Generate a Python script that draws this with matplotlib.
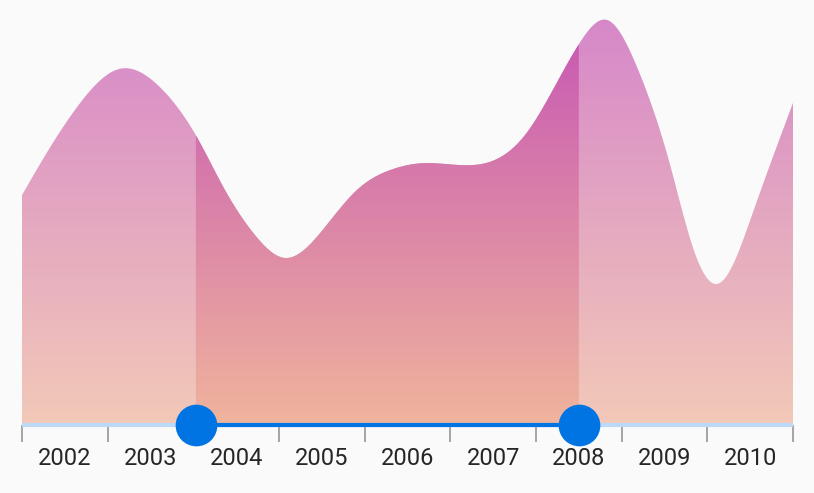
import numpy as np
import matplotlib
matplotlib.use("Agg")
import matplotlib.pyplot as plt
from matplotlib.colors import LinearSegmentedColormap
from matplotlib.path import Path
from matplotlib.patches import PathPatch

# values (x in years, y in % of plot height)
years_x = [2002.00, 2002.33, 2002.68, 2003.14, 2003.61, 2004.04, 2004.35, 2004.74,
           2005.07, 2005.51, 2005.91, 2006.30, 2006.68, 2007.08, 2007.46, 2007.89,
           2008.28, 2008.51, 2008.83, 2009.18, 2009.56, 2009.83, 2010.12, 2010.53,
           2011.00]
values = [54.1, 65.4, 75.8, 83.8, 79.5, 67.8, 56.0, 44.2,
          39.3, 45.9, 55.3, 60.0, 61.6, 61.2, 61.9, 68.7,
          81.9, 89.9, 95.3, 84.2, 61.6, 41.9, 33.2, 49.9,
          75.8]
tick_years = list(range(2002, 2012))
labels = [str(y) for y in range(2002, 2011)]
range_start, range_end = 2004.03, 2008.5


def spline(x, y, xn):
    # natural cubic spline
    x = np.asarray(x, float)
    y = np.asarray(y, float)
    n = len(x)
    h = np.diff(x)
    A = np.zeros((n, n))
    b = np.zeros(n)
    A[0, 0] = A[-1, -1] = 1
    for i in range(1, n - 1):
        A[i, i - 1] = h[i - 1]
        A[i, i] = 2 * (h[i - 1] + h[i])
        A[i, i + 1] = h[i]
        b[i] = 6 * ((y[i + 1] - y[i]) / h[i] - (y[i] - y[i - 1]) / h[i - 1])
    M = np.linalg.solve(A, b)
    idx = np.clip(np.searchsorted(x, xn) - 1, 0, n - 2)
    hi = h[idx]
    a = x[idx + 1] - xn
    c = xn - x[idx]
    return (M[idx] * a**3 / (6 * hi) + M[idx + 1] * c**3 / (6 * hi)
            + (y[idx] / hi - M[idx] * hi / 6) * a
            + (y[idx + 1] / hi - M[idx + 1] * hi / 6) * c)


def area_path(x0, x1):
    xs = np.linspace(x0, x1, 500)
    ys = spline(years_x, values, xs)
    verts = [(x0, 0)] + list(zip(xs, ys)) + [(x1, 0), (x0, 0)]
    return Path(verts, closed=True)


fig = plt.figure(figsize=(8.14, 4.93), dpi=100, facecolor="#fafafa")
ax = fig.add_axes([22 / 814, (493 - 425) / 493, (793 - 22) / 814, 425 / 493])
ax.set_facecolor("#fafafa")
ax.set_xlim(2002, 2011)
ax.set_ylim(0, 100)

cmap = LinearSegmentedColormap.from_list("grad", ["#f0b49c", "#c552b5"])
grad = np.linspace(0, 1, 256).reshape(-1, 1)

# whole area, faded (inactive region)
patch_all = PathPatch(area_path(2002, 2011), facecolor="none", edgecolor="none")
ax.add_patch(patch_all)
im = ax.imshow(grad, cmap=cmap, origin="lower", aspect="auto",
               extent=[2002, 2011, 0, 100], alpha=0.7, zorder=1)
im.set_clip_path(patch_all)

# selected range at full strength
patch_sel = PathPatch(area_path(range_start, range_end), facecolor="none", edgecolor="none")
ax.add_patch(patch_sel)
im2 = ax.imshow(grad, cmap=cmap, origin="lower", aspect="auto",
                extent=[2002, 2011, 0, 100], zorder=2)
im2.set_clip_path(patch_sel)

# track and thumbs
ax.plot([2002, 2011], [0, 0], color="#bcd9f5", lw=3, solid_capstyle="butt",
        clip_on=False, zorder=5)
ax.plot([range_start, range_end], [0, 0], color="#0074e3", lw=3,
        solid_capstyle="butt", clip_on=False, zorder=6)
ax.plot([range_start, range_end], [0, 0], "o", color="#0074e3", ms=30,
        mec="none", clip_on=False, zorder=7)

for s in ax.spines.values():
    s.set_visible(False)
ax.set_yticks([])
ax.set_xticks(tick_years)
ax.set_xticklabels([])
ax.tick_params(axis="x", which="major", direction="out", length=12,
               width=1.3, color="#9e9e9e")
ax.set_xticks([y + 0.5 for y in range(2002, 2011)], minor=True)
ax.set_xticklabels(labels, minor=True, fontsize=17, color="#262626",
                   fontfamily="Roboto")
ax.tick_params(axis="x", which="minor", length=0, pad=16)

fig.savefig("out.png", dpi=100, facecolor="#fafafa")
